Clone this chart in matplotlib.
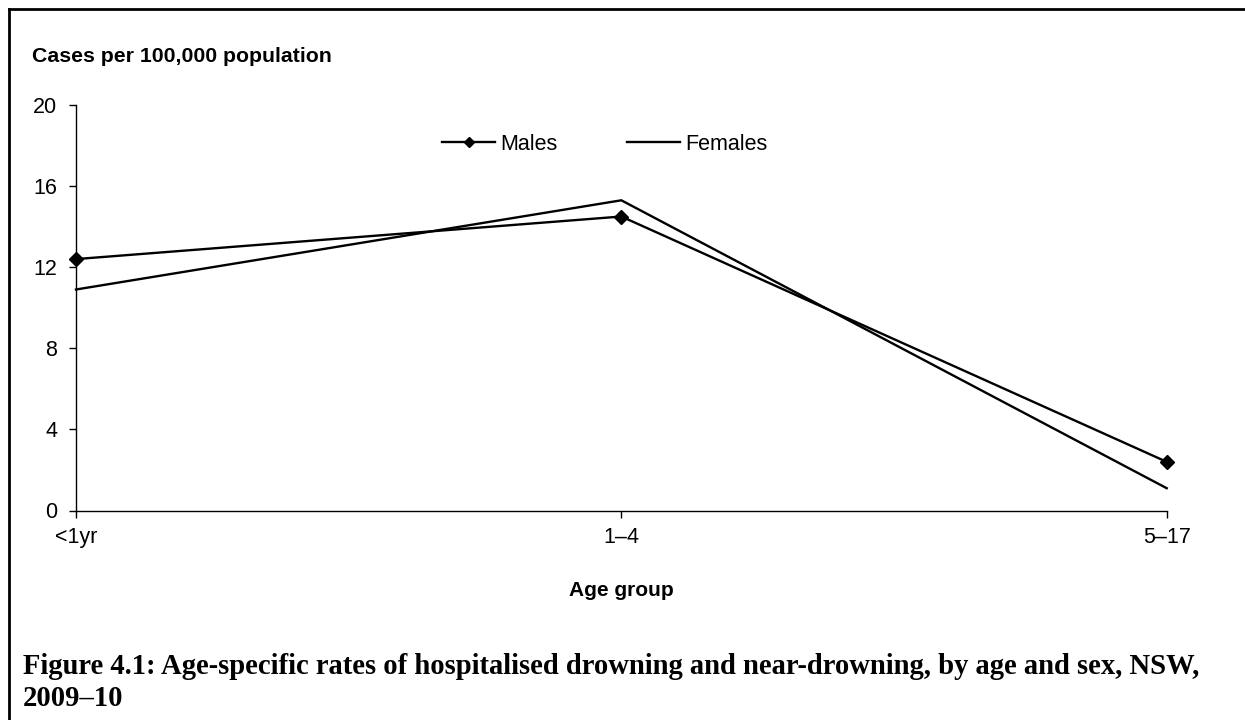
import matplotlib
matplotlib.use("Agg")
import matplotlib.pyplot as plt
from matplotlib.lines import Line2D

# data
age_groups = ["<1yr", "1\u20134", "5\u201317"]
males = [12.4, 14.5, 2.4]
females = [10.9, 15.3, 1.1]
y_ticks = [0, 4, 8, 12, 16, 20]

plt.rcParams['font.family'] = ['Liberation Sans', 'DejaVu Sans']

W, H = 1245, 720
fig = plt.figure(figsize=(W / 100, H / 100), dpi=100)
ax = fig.add_axes([76 / W, 1 - 510.5 / H, (1166.7 - 76) / W, (510.5 - 105) / H])

x = list(range(len(age_groups)))
ax.plot(x, males, color='black', linewidth=1.7, marker='D', markersize=7.5, label='Males', clip_on=False, zorder=3)
ax.plot(x, females, color='black', linewidth=1.7, label='Females', clip_on=False, zorder=3)

ax.set_xlim(0, 2)
ax.set_ylim(0, 20)
ax.set_yticks(y_ticks)
ax.set_xticks(x)
ax.set_xticklabels(age_groups)
ax.tick_params(axis='both', labelsize=15.5, length=5, width=1, direction='out', colors='black')
ax.tick_params(axis='y', pad=8.5)
ax.tick_params(axis='x', pad=7)
for side in ['top', 'right']:
    ax.spines[side].set_visible(False)
for side in ['left', 'bottom']:
    ax.spines[side].set_linewidth(1)

ax.set_xlabel('Age group', fontsize=15, fontweight='bold', labelpad=24)

leg = ax.legend(loc='center', bbox_to_anchor=(605 / W, 1 - 144 / H), bbox_transform=fig.transFigure,
                ncol=2, frameon=False, fontsize=15.5, handlelength=2.45, handletextpad=0.25,
                columnspacing=3.25, markerscale=0.65)

fig.text(32 / W, 1 - 56 / H, 'Cases per 100,000 population', fontsize=15.3, fontweight='bold', va='center', ha='left')

fig.text(23 / W, 1 - 667 / H, 'Figure 4.1: Age-specific rates of hospitalised drowning and near-drowning, by age and sex, NSW,',
         fontsize=20.6, fontweight='bold', family=['Liberation Serif', 'DejaVu Serif'], va='center', ha='left')
fig.text(23 / W, 1 - 698 / H, '2009\u201310',
         fontsize=20.6, fontweight='bold', family=['Liberation Serif', 'DejaVu Serif'], va='center', ha='left')

# frame lines at top and left of the figure
fig.add_artist(Line2D([8.5 / W, 8.5 / W], [0, 1 - 8.5 / H], transform=fig.transFigure, color='black', linewidth=2))
fig.add_artist(Line2D([8.5 / W, 1], [1 - 8.5 / H, 1 - 8.5 / H], transform=fig.transFigure, color='black', linewidth=2))

fig.savefig('out.png', dpi=100)
